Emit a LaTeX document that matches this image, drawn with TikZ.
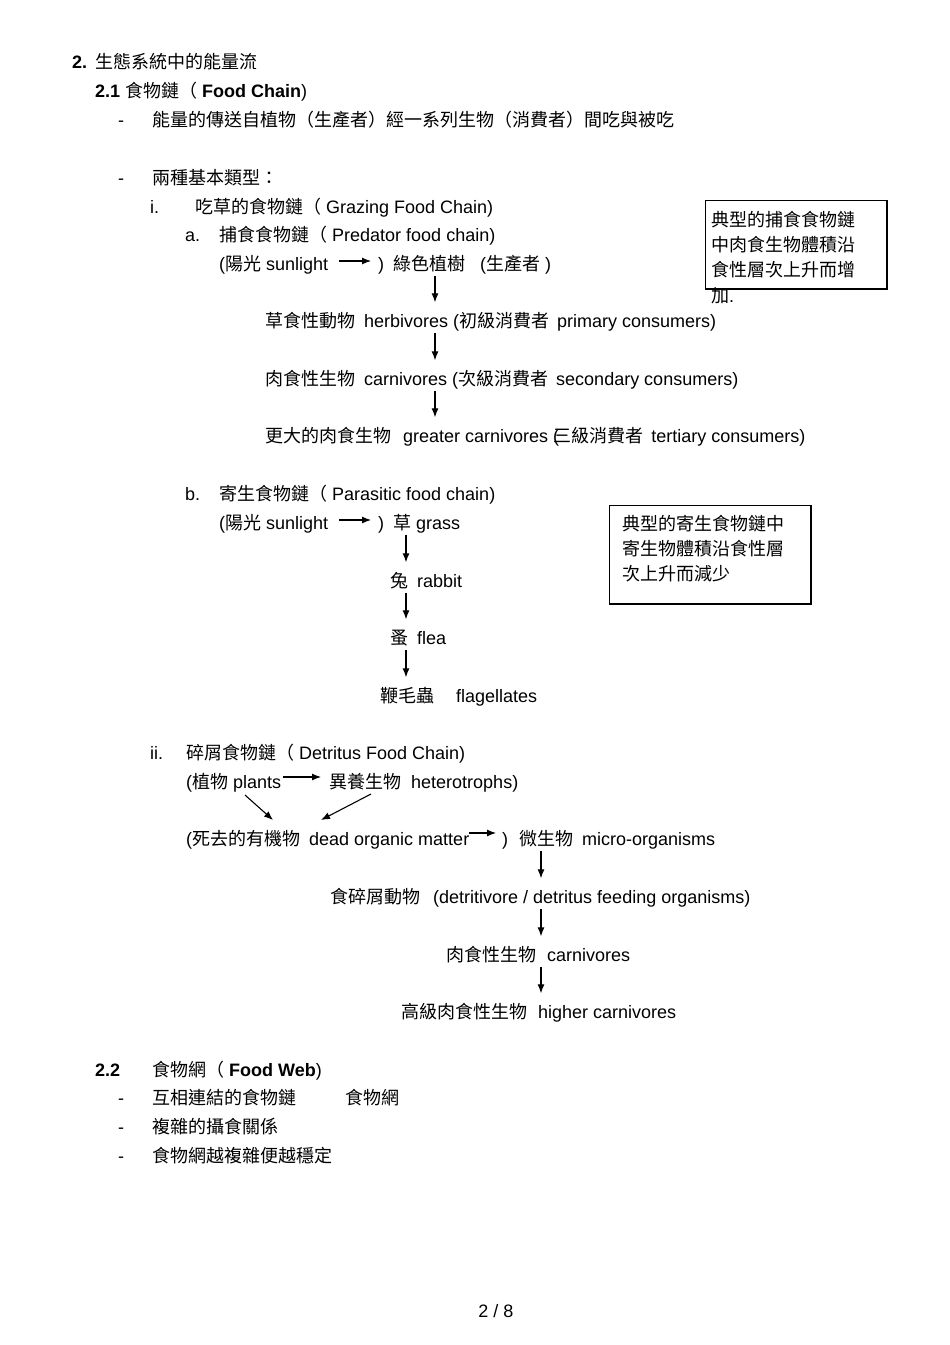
\documentclass[tikz,border=0pt]{standalone}
\usepackage{fontspec}
\setmainfont{Liberation Sans}
\newfontfamily\cj{Noto Sans CJK TC}
\usetikzlibrary{arrows.meta,calc}
\newcommand\ZH[1]{{\cj #1}}
\begin{document}
\begin{tikzpicture}[x=1pt,y=-1pt,
 t/.style={anchor=base west,inner sep=0pt,text height=14pt,text depth=4pt,font=\fontsize{18}{22}\selectfont},
 arr/.style={line width=1.1pt,-{Latex[length=9pt,width=7pt]}},
 varr/.style={arr,shorten <=1.5pt,shorten >=10.5pt},
 frame/.style={draw,line width=0.8pt,anchor=north west,inner sep=0pt},
 shadowline/.style={line width=1.6pt}]
\path[use as bounding box, fill=white] (0,0) rectangle (950,1345);

% ---- heading 2 ----
\node[t] (h1n) at (72,68) {\textbf{2.}};
\node[t] (h1) at (95,68) {\ZH{生態系統中的能量流}};
\node[t] (h21) at (95,97) {\textbf{2.1} \ZH{食物鏈（} \textbf{Food Chain})};
\node[t] (d1) at (118,126) {-};
\node[t] (l1) at (152,126) {\ZH{能量的傳送自植物（生產者）經一系列生物（消費者）間吃與被吃}};
\node[t] (d2) at (118,184) {-};
\node[t] (l2) at (152,184) {\ZH{兩種基本類型：}};
\node[t] (ri) at (150,213) {i.};
\node[t] (gfc) at (195,213) {\ZH{吃草的食物鏈（} Grazing Food Chain)};

% ---- a. predator chain ----
\node[t] (ra) at (185,241) {a.};
\node[t] (pfc) at (219,241) {\ZH{捕食食物鏈（} Predator food chain)};
\node[t] (sun1) at (219,270) {(\ZH{陽光} sunlight};
\node[t] (tree1) at (378,270) {)\hspace{9pt}\ZH{綠色植樹}\hspace{15pt}(\ZH{生產者} )};
\draw[arr] ($(sun1.base east)+(11,-9)$) -- ($(tree1.base west)+(-7,-9)$);
\coordinate (xa) at (435,0);
\node[t] (herb) at (265,327) {\ZH{草食性動物}\hspace{9pt}herbivores (\ZH{初級消費者}\hspace{8pt}primary consumers)};
\node[t] (carn) at (265,385) {\ZH{肉食性生物}\hspace{9pt}carnivores (\ZH{次級消費者}\hspace{8pt}secondary consumers)};
\node[t] (grc) at (265,442) {\ZH{更大的肉食生物}\hspace{12pt}greater carnivores (\hspace{-6pt}\ZH{三級消費者}\hspace{8pt}tertiary consumers)};
\draw[varr] (xa |- tree1.south) -- (xa |- herb.north);
\draw[varr] (xa |- herb.south) -- (xa |- carn.north);
\draw[varr] (xa |- carn.south) -- (xa |- grc.north);

% box 1
\node[frame, minimum width=181pt, minimum height=88pt] (box1) at (705,200) {};
\draw[shadowline] (box1.north east) -- (box1.south east) -- (box1.south west);
\node[t] (b1l1) at (711,226) {\ZH{典型的捕食食物鏈}};
\node[t] (b1l2) at (711,251) {\ZH{中肉食生物體積沿}};
\node[t] (b1l3) at (711,276) {\ZH{食性層次上升而增}};
\node[t] (b1l4) at (711,302) {\ZH{加}.};

% ---- b. parasitic chain ----
\node[t] (rb) at (185,500) {b.};
\node[t] (pafc) at (219,500) {\ZH{寄生食物鏈（} Parasitic food chain)};
\node[t] (sun2) at (219,529) {(\ZH{陽光} sunlight};
\node[t] (grass) at (378,529) {)\hspace{9pt}\ZH{草} grass};
\draw[arr] ($(sun2.base east)+(11,-9)$) -- ($(grass.base west)+(-7,-9)$);
\coordinate (xb) at (406,0);
\node[t] (rabbit) at (390,587) {\ZH{兔}\hspace{9pt}rabbit};
\node[t] (flea) at (390,644) {\ZH{蚤}\hspace{9pt}flea};
\node[t] (flag) at (380,702) {\ZH{鞭毛蟲}\hspace{22pt}flagellates};
\draw[varr] (xb |- grass.south) -- (xb |- rabbit.north);
\draw[varr] (xb |- rabbit.south) -- (xb |- flea.north);
\draw[varr] (xb |- flea.south) -- (xb |- flag.north);

% box 2
\node[frame, minimum width=201pt, minimum height=98pt] (box2) at (609,505) {};
\draw[shadowline] (box2.north east) -- (box2.south east) -- (box2.south west);
\node[t] (b2l1) at (622,530) {\ZH{典型的寄生食物鏈中}};
\node[t] (b2l2) at (622,555) {\ZH{寄生物體積沿食性層}};
\node[t] (b2l3) at (622,580) {\ZH{次上升而減少}};

% ---- ii. detritus chain ----
\node[t] (rii) at (150,759) {ii.};
\node[t] (dfc) at (186,759) {\ZH{碎屑食物鏈（} Detritus Food Chain)};
\node[t] (plants) at (186,788) {(\ZH{植物} plants};
\node[t] (hetero) at (329,788) {\ZH{異養生物}\hspace{10pt}heterotrophs)};
\draw[arr] ($(plants.base east)+(2,-11)$) -- ($(hetero.base west)+(-8,-11)$);
\node[t] (dom) at (186,845) {(\ZH{死去的有機物}\hspace{9pt}dead organic matter};
\node[t] (micro) at (502,845) {)\hspace{11pt}\ZH{微生物}\hspace{9pt}micro-organisms};
\draw[arr] ($(plants.base west)+(59,7)$) -- ($(dom.base west)+(87,-25)$);
\draw[arr] ($(hetero.base west)+(42,6)$) -- ($(dom.base west)+(135,-25)$);
\draw[arr] ($(dom.base east)+(0,-12)$) -- ($(micro.base west)+(-6,-12)$);
\coordinate (xc) at (541,0);
\node[t] (detv) at (330,903) {\ZH{食碎屑動物}\hspace{13pt}(detritivore / detritus feeding organisms)};
\node[t] (carn2) at (446,961) {\ZH{肉食性生物}\hspace{11pt}carnivores};
\node[t] (hcarn) at (401,1018) {\ZH{高級肉食性生物}\hspace{11pt}higher carnivores};
\draw[varr] (xc |- micro.south) -- (xc |- detv.north);
\draw[varr] (xc |- detv.south) -- (xc |- carn2.north);
\draw[varr] (xc |- carn2.south) -- (xc |- hcarn.north);

% ---- 2.2 food web ----
\node[t] (h22n) at (95,1076) {\textbf{2.2}};
\node[t] (h22) at (152,1076) {\ZH{食物網（} \textbf{Food Web})};
\node[t] (d3) at (118,1104) {-};
\node[t] (l3) at (152,1104) {\ZH{互相連結的食物鏈}};
\node[t] (l3b) at (345,1104) {\ZH{食物網}};
\node[t] (d4) at (118,1133) {-};
\node[t] (l4) at (152,1133) {\ZH{複雜的攝食關係}};
\node[t] (d5) at (118,1162) {-};
\node[t] (l5) at (152,1162) {\ZH{食物網越複雜便越穩定}};
\node[t, anchor=base] (pg) at (496,1317) {2 / 8};
\end{tikzpicture}
\end{document}
